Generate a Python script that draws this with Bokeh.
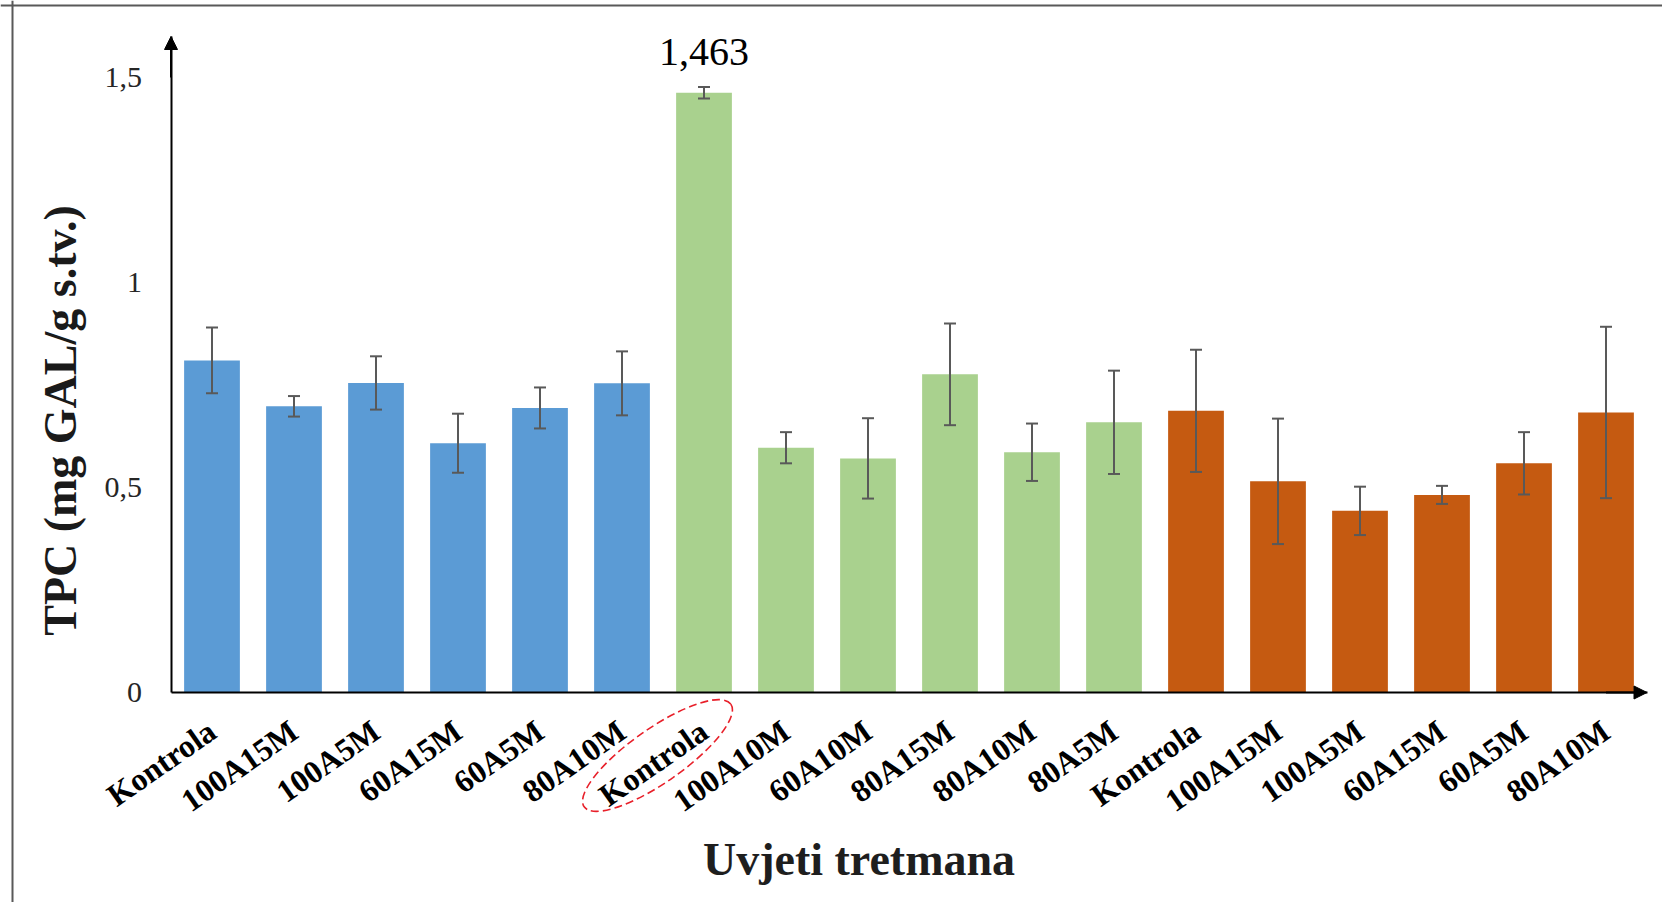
import math
from bokeh.plotting import figure
from bokeh.models import (LinearAxis, FixedTicker, Range1d, ColumnDataSource, Whisker,
                          TeeHead, Arrow, NormalHead, Label, Span)
from bokeh.core.properties import value
from bokeh.embed import file_html
from bokeh.resources import INLINE

# ---------------- data ----------------
blue_labels = ["Kontrola", "100A15M", "100A5M", "60A15M", "60A5M", "80A10M"]
blue_values = [0.810, 0.698, 0.755, 0.608, 0.694, 0.754]
blue_errors = [0.080, 0.025, 0.065, 0.072, 0.050, 0.078]

green_labels = ["Kontrola", "100A10M", "60A10M", "80A15M", "80A10M", "80A5M"]
green_values = [1.463, 0.597, 0.571, 0.776, 0.586, 0.659]
green_errors = [0.014, 0.038, 0.098, 0.124, 0.070, 0.126]

orange_labels = ["Kontrola", "100A15M", "100A5M", "60A15M", "60A5M", "80A10M"]
orange_values = [0.687, 0.515, 0.443, 0.482, 0.559, 0.683]
orange_errors = [0.149, 0.153, 0.059, 0.022, 0.076, 0.209]

y_ticks = [0, 0.5, 1, 1.5]
y_tick_labels = ["0", "0,5", "1", "1,5"]

x_title = "Uvjeti tretmana"
y_title = "TPC (mg GAL/g s.tv.)"

# ---------------- styling / layout ----------------
BLUE, GREEN, ORANGE = "#5b9bd5", "#a9d18e", "#c55a11"
ERR_COLOR = "#595959"
FONT = "Liberation Serif"

W, H = 1662, 902
X0_PX = 211.5      # screen x of first category centre
PITCH = 82.0       # px per category
Y0_PX = 692.0      # screen y (from top) of value 0
PPU = 410.0        # px per value unit

def px2x(px):
    return (px - X0_PX) / PITCH

def px2y(py):
    return (Y0_PX - py) / PPU

labels = blue_labels + green_labels + orange_labels
vals = blue_values + green_values + orange_values
errs = blue_errors + green_errors + orange_errors
colors = [BLUE] * len(blue_values) + [GREEN] * len(green_values) + [ORANGE] * len(orange_values)
idx = list(range(len(vals)))
n = len(vals)

src = ColumnDataSource(dict(
    x=idx, top=vals,
    upper=[v + e for v, e in zip(vals, errs)],
    lower=[v - e for v, e in zip(vals, errs)],
    color=colors,
))

p = figure(width=W, height=H,
           x_range=Range1d(px2x(0), px2x(W)),
           y_range=Range1d(px2y(H), px2y(0)),
           x_axis_type=None, y_axis_type=None,
           toolbar_location=None, output_backend="svg", min_border=0)
p.outline_line_color = None
p.background_fill_color = "white"
p.border_fill_color = "white"

p.vbar(x="x", top="top", width=0.68, bottom=0, source=src,
       fill_color="color", line_color=None)

whisk = Whisker(source=src, base="x", upper="upper", lower="lower", level="overlay",
                line_color=ERR_COLOR, line_width=2)
whisk.upper_head = TeeHead(size=12, line_color=ERR_COLOR, line_width=2)
whisk.lower_head = TeeHead(size=12, line_color=ERR_COLOR, line_width=2)
p.add_layout(whisk)

# x axis at value 0
y_max = 1.6
xaxis = LinearAxis(fixed_location=0, bounds=(-0.5, n - 0.5),
                   ticker=FixedTicker(ticks=idx),
                   major_label_overrides={i: lab for i, lab in zip(idx, labels)})
xaxis.major_label_orientation = math.radians(35)
xaxis.major_label_text_font = FONT
xaxis.major_label_text_font_style = "bold"
xaxis.major_label_text_font_size = "32px"
xaxis.major_label_text_color = "black"
xaxis.major_label_standoff = 35
xaxis.major_tick_out = 0
xaxis.major_tick_in = 0
xaxis.minor_tick_line_color = None
xaxis.axis_line_color = "black"
xaxis.axis_line_width = 2
p.add_layout(xaxis, "below")

yaxis = LinearAxis(fixed_location=-0.5, bounds=(0, y_max),
                   ticker=FixedTicker(ticks=y_ticks),
                   major_label_overrides={t: s for t, s in zip(y_ticks, y_tick_labels)})
yaxis.major_label_text_font = FONT
yaxis.major_label_text_font_size = "30px"
yaxis.major_label_text_color = "#262626"
yaxis.major_label_standoff = 29
yaxis.major_tick_out = 0
yaxis.major_tick_in = 0
yaxis.minor_tick_line_color = None
yaxis.axis_line_color = "black"
yaxis.axis_line_width = 2
p.add_layout(yaxis, "left")

# arrow heads on axes
p.add_layout(Arrow(end=NormalHead(size=13, fill_color="black", line_color="black"),
                   x_start=n - 1, y_start=0, x_end=n - 0.5, y_end=0,
                   line_color="black", line_width=2))
p.add_layout(Arrow(end=NormalHead(size=13, fill_color="black", line_color="black"),
                   x_start=-0.5, y_start=y_max - 0.1, x_end=-0.5, y_end=y_max,
                   line_color="black", line_width=2))

# data label on the highest bar
imax = max(idx, key=lambda i: vals[i])
p.text(x=[imax], y=[vals[imax] + 41 / PPU], text=[f"{vals[imax]:.3f}".replace(".", ",")],
       text_font=value(FONT), text_font_size="40px", text_align="center",
       text_baseline="alphabetic", text_color="black")

# red dashed ellipse around the highlighted label
p.ellipse(x=[px2x(657)], y=[px2y(755)], width=179, height=54,
          angle=math.radians(35), width_units="screen", height_units="screen",
          fill_color=None, line_color="#e8202a", line_width=1.6, line_dash="8 4")

# axis titles
p.add_layout(Label(x=px2x(60), y=px2y(420), text=y_title, angle=math.pi / 2,
                   text_align="center", text_baseline="alphabetic",
                   text_font=FONT, text_font_style="bold", text_font_size="46px",
                   text_color="#1a1a1a"))
p.add_layout(Label(x=px2x(858.5), y=px2y(859), text=x_title,
                   text_align="center", text_baseline="alphabetic",
                   text_font=FONT, text_font_style="bold", text_font_size="46px",
                   text_color="#1e1e1e"))

# frame border (left and top edges visible)
p.add_layout(Span(location=px2x(12), dimension="height", line_color=ERR_COLOR, line_width=2))
p.add_layout(Span(location=px2y(5), dimension="width", line_color=ERR_COLOR, line_width=2))

open("out.html", "w").write(file_html(p, INLINE))
